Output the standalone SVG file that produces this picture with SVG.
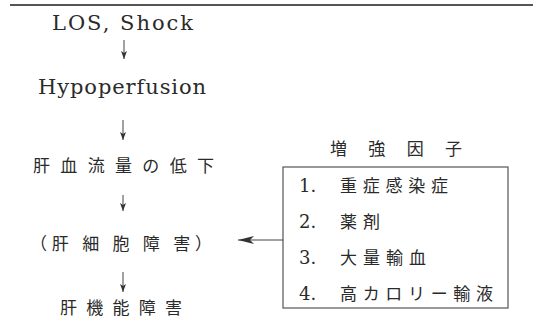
<svg xmlns="http://www.w3.org/2000/svg" width="533" height="323" viewBox="0 0 533 323">
<defs>
<style>
.lat{font-family:"DejaVu Serif","Liberation Serif",serif;font-size:21px;fill:#2a2a2a}
.cjk{font-family:"Noto Sans CJK JP","Noto Sans CJK SC",sans-serif;font-size:17px;fill:#2a2a2a}
.num{font-family:"DejaVu Serif","Liberation Serif",serif;font-size:18px;fill:#2a2a2a}
.conn{stroke:#444;stroke-width:1;fill:none}
</style>
<marker id="sm" viewBox="0 0 8 6" refX="8" refY="3" markerWidth="8" markerHeight="6" markerUnits="userSpaceOnUse" orient="auto">
<path d="M0,0 L8,3 L0,6 L2,3 Z" fill="#333"/>
</marker>
<marker id="big" viewBox="0 0 16 8" refX="16" refY="4" markerWidth="16" markerHeight="8" markerUnits="userSpaceOnUse" orient="auto">
<path d="M0,0 L16,4 L0,8 L4,4 Z" fill="#333"/>
</marker>
</defs>
<rect width="533" height="323" fill="#fff"/>
<line x1="10" y1="5" x2="533" y2="5" stroke="#555" stroke-width="2"/>

<g id="n-los"><text class="lat" x="52" y="30" textLength="141" lengthAdjust="spacing">LOS, Shock</text></g>
<g id="n-hypo"><text class="lat" x="38" y="94" textLength="168" lengthAdjust="spacing">Hypoperfusion</text></g>
<g id="n-blood"><text class="cjk" x="33" y="172" textLength="181" lengthAdjust="spacing" font-size="18">肝血流量の低下</text></g>
<g id="n-cell"><text class="cjk" x="30" y="250" textLength="182" lengthAdjust="spacing" font-size="18">（肝 細 胞 障 害）</text></g>
<g id="n-func"><text class="cjk" x="60" y="314" textLength="122" lengthAdjust="spacing" font-size="18">肝機能障害</text></g>

<g id="n-factors">
<text class="cjk" x="330" y="155" textLength="132" lengthAdjust="spacing" font-size="18">増 強 因 子</text>
<rect x="283" y="167" width="225" height="141" fill="none" stroke="#555" stroke-width="1.2"/>
<text class="num" x="299" y="192">1.</text><text class="cjk" x="340" y="192" textLength="108" lengthAdjust="spacing">重症感染症</text>
<text class="num" x="299" y="228">2.</text><text class="cjk" x="340" y="228" textLength="40" lengthAdjust="spacing">薬剤</text>
<text class="num" x="299" y="264">3.</text><text class="cjk" x="340" y="264" textLength="86" lengthAdjust="spacing">大量輸血</text>
<text class="num" x="299" y="300">4.</text><text class="cjk" x="340" y="300" textLength="153" lengthAdjust="spacing">高カロリー輸液</text>
</g>

<g id="connectors">
<line class="conn" x1="124" y1="40" x2="124" y2="59" marker-end="url(#sm)"/>
<line class="conn" x1="123" y1="120" x2="123" y2="140" marker-end="url(#sm)"/>
<line class="conn" x1="123" y1="195" x2="123" y2="211" marker-end="url(#sm)"/>
<line class="conn" x1="123" y1="272" x2="123" y2="292" marker-end="url(#sm)"/>
<line class="conn" x1="283" y1="240" x2="238" y2="240" marker-end="url(#big)"/>
</g>
</svg>
